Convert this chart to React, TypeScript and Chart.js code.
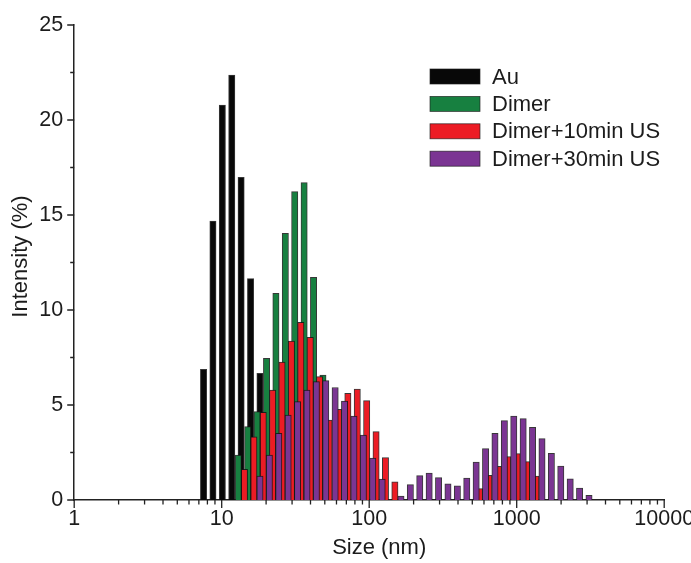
import { useEffect, useRef } from 'react';
import { Chart, registerables } from 'chart.js';

Chart.register(...registerables);

// ---- data ----
const seriesLabels = ['Au', 'Dimer', 'Dimer+10min US', 'Dimer+30min US'];
const seriesColors = ['#080808', '#178040', '#EC1C24', '#7B3593'];

const auSizes = [7.531, 8.721, 10.1, 11.7, 13.54, 15.69, 18.17];
const auValues = [6.88, 14.68, 20.79, 22.37, 16.98, 11.65, 6.67];

const dimerSizes = [12.96, 15.02, 17.39, 20.14, 23.31, 27.0, 31.26, 36.21, 41.94, 48.57];
const dimerValues = [2.37, 3.86, 4.65, 7.46, 10.88, 14.04, 16.23, 16.7, 11.72, 6.58];

const us10Sizes = [
  14.26, 16.52, 19.13, 22.16, 25.65, 29.71, 34.4, 39.85, 46.14, 53.44, 61.89, 71.67,
  83.0, 96.12, 111.3, 128.9, 149.3, 559.4, 647.7, 750.2, 868.7, 1006, 1165, 1349,
];
const us10Values = [
  1.61, 3.33, 4.61, 5.79, 7.26, 8.37, 9.35, 8.56, 6.49, 4.21, 4.77, 5.61,
  5.84, 5.23, 3.6, 2.23, 0.96, 0.6, 1.3, 1.77, 2.28, 2.44, 2.02, 1.26,
];

const us30Sizes = [
  18.17, 21.04, 24.36, 28.21, 32.67, 37.84, 43.82, 50.75, 58.77, 68.06, 78.82, 91.28,
  105.7, 122.4, 141.8, 164.2, 190.1, 220.2, 255.0, 295.3, 342.0, 396.1, 458.7, 531.2,
  615.1, 712.4, 825.0, 955.4, 1106, 1281, 1484, 1718, 1990, 2305, 2669, 3091,
];
const us30Values = [
  1.26, 2.36, 3.51, 4.47, 5.18, 5.79, 6.23, 6.28, 5.92, 5.21, 4.42, 3.42,
  2.21, 1.1, 0, 0.21, 0.81, 1.28, 1.42, 1.18, 0.85, 0.74, 1.16, 2.0,
  2.7, 3.51, 4.18, 4.42, 4.28, 3.82, 3.23, 2.46, 1.79, 1.12, 0.63, 0.25,
];

const xTickValues = [1, 10, 100, 1000, 10000];
const yTickValues = [0, 5, 10, 15, 20, 25];
const xTitle = 'Size (nm)';
const yTitle = 'Intensity (%)';

const FONT = "'Liberation Sans', Arial, Helvetica, sans-serif";
const TEXT = '#1c1c1c';
const AXIS = '#222222';

const toPoints = (xs: number[], ys: number[]) => xs.map((x, i) => ({ x, y: ys[i] }));

const tickPlugin = {
  id: 'customTicks',
  afterDraw(chart: any) {
    const { ctx, chartArea } = chart;
    const xs = chart.scales.x;
    const ys = chart.scales.y;
    ctx.save();
    ctx.strokeStyle = AXIS;
    ctx.lineWidth = 1.3;
    ctx.beginPath();
    for (let d = 0; d < 4; d++) {
      for (let m = 1; m < 10; m++) {
        const px = xs.getPixelForValue(m * Math.pow(10, d));
        const len = m === 1 ? 8 : 4.5;
        ctx.moveTo(px, chartArea.bottom);
        ctx.lineTo(px, chartArea.bottom + len);
      }
    }
    const pEnd = xs.getPixelForValue(10000);
    ctx.moveTo(pEnd, chartArea.bottom);
    ctx.lineTo(pEnd, chartArea.bottom + 8);
    for (let v = 0; v <= 25; v += 2.5) {
      const py = ys.getPixelForValue(v);
      const len = v % 5 === 0 ? 7 : 4;
      ctx.moveTo(chartArea.left, py);
      ctx.lineTo(chartArea.left - len, py);
    }
    ctx.stroke();

    // axis titles
    ctx.fillStyle = TEXT;
    ctx.font = `22px ${FONT}`;
    ctx.textAlign = 'center';
    ctx.textBaseline = 'middle';
    ctx.fillText(xTitle, (chartArea.left + chartArea.right) / 2 + 10, 548);
    ctx.translate(21, (chartArea.top + chartArea.bottom) / 2 - 6);
    ctx.rotate(-Math.PI / 2);
    ctx.fillText(yTitle, 0, 0);
    ctx.restore();
  },
};

const legendPlugin = {
  id: 'customLegend',
  afterDraw(chart: any) {
    const { ctx } = chart;
    const boxX = 430;
    const boxW = 50;
    const boxH = 15;
    const firstY = 76.5;
    const step = 27.4;
    ctx.save();
    ctx.font = `22px ${FONT}`;
    ctx.textBaseline = 'middle';
    ctx.textAlign = 'left';
    chart.data.datasets.forEach((ds: any, i: number) => {
      const cy = firstY + i * step;
      ctx.fillStyle = ds.backgroundColor;
      ctx.fillRect(boxX, cy - boxH / 2, boxW, boxH);
      ctx.strokeStyle = 'rgba(30,30,30,0.8)';
      ctx.lineWidth = 0.8;
      ctx.strokeRect(boxX, cy - boxH / 2, boxW, boxH);
      ctx.fillStyle = TEXT;
      ctx.fillText(ds.label, boxX + boxW + 12, cy + 1);
    });
    ctx.restore();
  },
};

export default function App() {
  const canvasRef = useRef<HTMLCanvasElement | null>(null);

  useEffect(() => {
    if (!canvasRef.current) return;
    Chart.defaults.font.family = FONT;
    const sizes = [auSizes, dimerSizes, us10Sizes, us30Sizes];
    const values = [auValues, dimerValues, us10Values, us30Values];
    const orders = [4, 3, 2, 1];
    const chart = new Chart(canvasRef.current, {
      type: 'bar',
      data: {
        datasets: seriesLabels.map((label, i) => ({
          label,
          data: toPoints(sizes[i], values[i]),
          backgroundColor: seriesColors[i],
          borderColor: 'rgba(20,20,20,0.85)',
          borderWidth: 1,
          barThickness: 6.3,
          grouped: false,
          order: orders[i],
        })),
      },
      options: {
        animation: false,
        responsive: false,
        maintainAspectRatio: false,
        events: [],
        layout: { padding: { left: 0, top: 25, right: 26.8, bottom: 0 } },
        plugins: {
          legend: { display: false },
          tooltip: { enabled: false },
        },
        scales: {
          x: {
            type: 'logarithmic',
            min: 1,
            max: 10000,
            offset: false,
            grid: { display: false, drawTicks: false, offset: false },
            border: { display: true, color: AXIS, width: 1.5 },
            afterBuildTicks: (s: any) => {
              s.ticks = xTickValues.map((v) => ({ value: v, major: true }));
            },
            afterFit: (s: any) => {
              s.height = 63;
              s.paddingLeft = 0;
              s.paddingRight = 0;
            },
            ticks: {
              autoSkip: false,
              maxRotation: 0,
              padding: 6,
              color: TEXT,
              font: { size: 21.5, family: FONT },
              callback: (v: any) => String(v),
            },
            title: { display: false },
          },
          y: {
            type: 'linear',
            min: 0,
            max: 25,
            grid: { display: false, drawTicks: false },
            border: { display: true, color: AXIS, width: 1.5 },
            afterBuildTicks: (s: any) => {
              s.ticks = yTickValues.map((v) => ({ value: v }));
            },
            afterFit: (s: any) => {
              s.width = 74.2;
              s.paddingTop = 0;
              s.paddingBottom = 0;
            },
            ticks: {
              padding: 11,
              color: TEXT,
              font: { size: 21.5, family: FONT },
              callback: (v: any) => String(v),
            },
            title: { display: false },
          },
        },
      } as any,
      plugins: [tickPlugin, legendPlugin],
    });
    return () => chart.destroy();
  }, []);

  return (
    <div style={{ position: 'absolute', left: 0, top: 0, width: 691, height: 563, background: '#fff' }}>
      <canvas ref={canvasRef} width={691} height={563} style={{ display: 'block' }} />
    </div>
  );
}
